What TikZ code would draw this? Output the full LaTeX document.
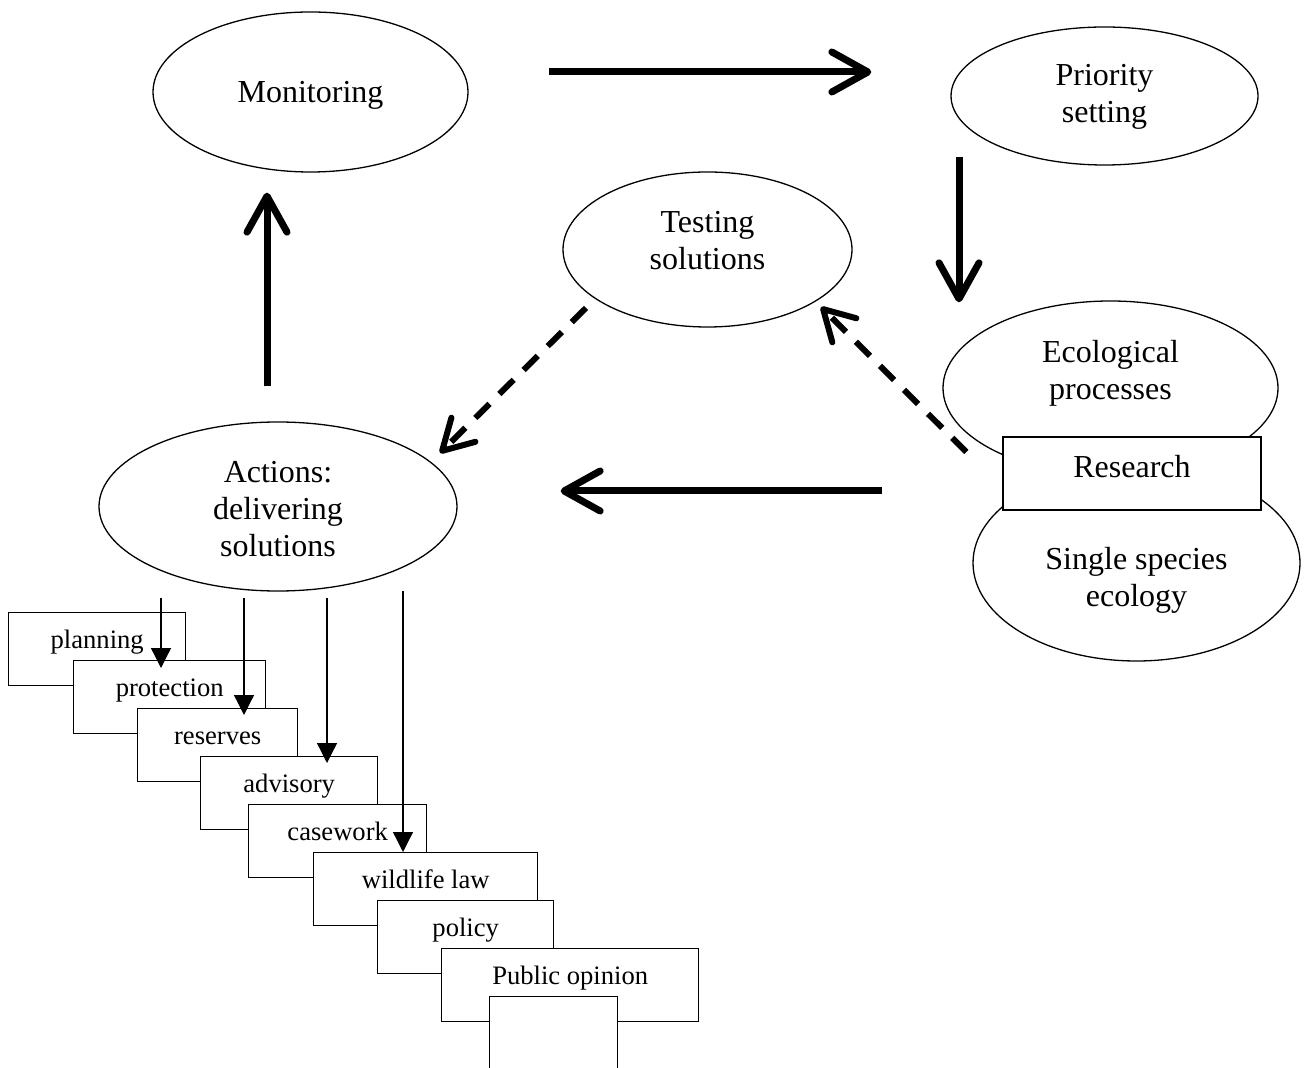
\documentclass[tikz,border=0pt]{standalone}
\usepackage{fontspec}
\setmainfont{Liberation Serif}
\usetikzlibrary{calc,positioning}
\usetikzlibrary{shapes.geometric,arrows.meta}
\newcommand{\stacktext}[1]{\begin{tabular}[t]{@{}c@{}}#1\end{tabular}}

\begin{document}
\begin{tikzpicture}[x=0.5pt,y=-0.5pt,
		bubble/.style={ellipse,draw,line width=0.65pt,inner sep=0pt,
			font=\fontsize{16}{18.5}\selectfont},
		stepbox/.style={rectangle,draw,fill=white,line width=0.7pt,anchor=north west,
			minimum height=36.5pt,inner sep=0pt,text height=6pt,text depth=6.5pt,
			font=\fontsize{13.3}{15}\selectfont},
		bigarrow/.style={line width=3.5pt,
			-{Straight Barb[length=18pt,width=20pt,line cap=round,line join=round]}},
		dasharrow/.style={line width=3pt,dash pattern=on 10pt off 7pt,
			-{Straight Barb[length=15pt,width=17pt,line cap=round,line join=round]}},
		smallarrow/.style={line width=0.65pt,-{Triangle[length=10pt,width=10pt]}}]
	\useasboundingbox (0,0) rectangle (1305,1068);

	% the cycle
	\node[bubble,minimum width=157.5pt,minimum height=80pt,text height=12pt,text depth=1pt]
		(mon) at (310.5,92) {Monitoring};
	\node[bubble,minimum width=153.5pt,minimum height=69pt,text height=8pt,text depth=18pt]
		(prio) at (1104.5,96) {\stacktext{Priority\\setting}};
	\node[bubble,minimum width=144.5pt,minimum height=77.5pt,text height=8pt,text depth=24.5pt]
		(test) at (707.5,249.5) {\stacktext{Testing\\solutions}};
	\node[bubble,minimum width=179pt,minimum height=84.5pt,text height=8pt,text depth=31.5pt]
		(act) at (278,506.5) {\stacktext{Actions:\\delivering\\solutions}};
	\node[bubble,minimum width=167.5pt,minimum height=87pt,text height=4pt,text depth=29pt]
		(eco) at (1110.5,388) {\stacktext{Ecological\\processes}};
	\node[bubble,minimum width=163.5pt,minimum height=98pt,text height=12pt,text depth=5pt]
		(single) at (1136.5,563) {\stacktext{Single species\\ecology}};
	\node[rectangle,draw,fill=white,line width=0.7pt,minimum width=129pt,minimum height=36.5pt,
		text height=10pt,text depth=5.5pt,font=\fontsize{16}{18.5}\selectfont] (rsch) at (1132,473.5) {Research};

	% staircase of actions
	\foreach \nm/\xx/\yy/\ww/\txt in {plan/8/612/177/planning,prot/73/660/192/protection,
			rsv/137/708/160/reserves,adv/200/756/177/advisory,cwk/248/804/178/casework,
			law/313/852/224/wildlife law,pol/377/900/176/policy,pub/441/948/257/Public opinion}
		\node[stepbox,minimum width=\ww*0.5pt] (\nm) at (\xx,\yy) {\txt};
	\node[stepbox,minimum width=64pt,minimum height=40pt] (blank) at (489,996) {};

	\foreach \dx/\dy/\tgt/\ex in {-117/6/prot/8,-34/6/rsv/7,49/6/adv/7,125/-1/law/0}
		\draw[smallarrow] ($(act.south)+(\dx,\dy)$) coordinate (top) -- ($(top |- \tgt.north)+(0,\ex)$);

	\draw[bigarrow] ($(mon.east)+(80,-20)$) -- ($(prio.west)+(-79,-24)$);
	\draw[bigarrow] ($(prio.south)+(-145.5,-9)$) -- ($(eco.north)+(-151.5,2)$);
	\draw[bigarrow] ($(eco.west)+(-60,103)$) -- ($(act.east)+(103,-15.5)$);
	\draw[bigarrow] ($(act.north)+(-11,-35)$) -- ($(mon.south)+(-43.5,20)$);
	\draw[dasharrow] ($(test.center)+(-121.5,58.5)$) -- ($(act.center)+(162,-53.5)$);
	\draw[dasharrow] ($(rsch.west)+(-36,-21.5)$) -- ($(test.center)+(113.5,57.5)$);
\end{tikzpicture}
\end{document}
